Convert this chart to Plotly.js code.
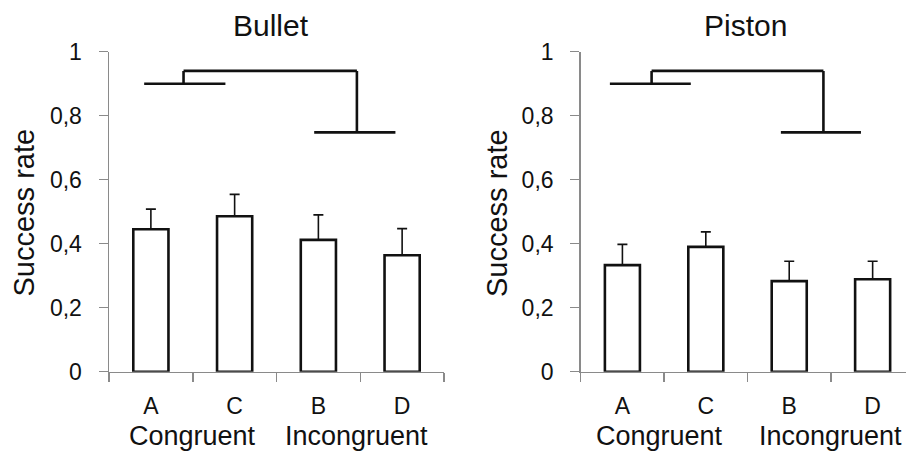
<!DOCTYPE html>
<html>
<head>
<meta charset="utf-8">
<script src="https://cdn.plot.ly/plotly-3.0.1.min.js"></script>
<style>html,body{margin:0;padding:0;background:#fff;}#chart{width:906px;height:452px;}</style>
</head>
<body>
<div id="chart"></div>
<script>
// ---- data ----
const categories = ['A', 'C', 'B', 'D'];
const groupLabels = ['Congruent', 'Incongruent'];
const panelTitles = ['Bullet', 'Piston'];
const yTickVals = [0, 0.2, 0.4, 0.6, 0.8, 1];
const yTickText = ['0', '0,2', '0,4', '0,6', '0,8', '1'];

const bulletRate = [0.445, 0.486, 0.412, 0.364];
const bulletErr  = [0.063, 0.068, 0.078, 0.083];
const pistonRate = [0.333, 0.390, 0.283, 0.289];
const pistonErr  = [0.065, 0.047, 0.062, 0.056];

// bracket: [lowLeft x0, lowLeft x1, left join x, right join x, lowRight x0, lowRight x1]
const bulletBracketX = [-0.08, 0.89, 0.39, 2.46, 1.95, 2.92];
const pistonBracketX = [-0.15, 0.82, 0.35, 2.41, 1.90, 2.86];
// bracket heights: [congruent level, top level, incongruent level]
const bracketY = [0.90, 0.94, 0.748];

// ---- style ----
const FONT = 'Liberation Sans, Arial, Helvetica, sans-serif';
const AXIS_GREY = '#8a8a8a';

function barTrace(vals, errs, xa, ya) {
  return {
    type: 'bar', x: categories, y: vals, xaxis: xa, yaxis: ya,
    width: 0.42,
    marker: {color: '#ffffff', line: {color: '#111111', width: 2.6}},
    error_y: {type: 'data', symmetric: false, array: errs,
              arrayminus: errs.map(() => 0), color: '#111111', thickness: 1.6, width: 5},
    hoverinfo: 'none', showlegend: false
  };
}

function bracketShapes(bx, xr, yr) {
  const [yl, yt, yrr] = bracketY;
  const segs = [
    [bx[0], yl, bx[1], yl],
    [bx[2], yl, bx[2], yt],
    [bx[2], yt, bx[3], yt],
    [bx[3], yt, bx[3], yrr],
    [bx[4], yrr, bx[5], yrr]
  ];
  return segs.map(s => ({type: 'line', xref: xr, yref: yr,
    x0: s[0], y0: s[1], x1: s[2], y1: s[3],
    line: {color: '#111111', width: 2.6}}));
}

const xCommon = {
  type: 'category', categoryorder: 'array', categoryarray: categories,
  showline: true, linecolor: AXIS_GREY, linewidth: 1.5,
  ticks: 'outside', tickson: 'boundaries', ticklen: 9, tickcolor: AXIS_GREY, tickwidth: 1.5,
  showgrid: false, zeroline: false, ticklabelstandoff: 13,
  tickfont: {family: FONT, size: 23, color: '#111'}
};
const yCommon = {
  range: [0, 1], tickvals: yTickVals, ticktext: yTickText,
  showline: true, linecolor: AXIS_GREY, linewidth: 1.5,
  ticks: 'outside', ticklen: 9, tickcolor: AXIS_GREY, tickwidth: 1.5,
  showgrid: false, zeroline: false, ticklabelstandoff: 12,
  tickfont: {family: FONT, size: 23, color: '#111'}
};

const gl = {xanchor: 'center', yanchor: 'middle', showarrow: false, yref: 'paper',
            y: 1 - 436 / 452, font: {family: FONT, size: 27, color: '#111'}};

const layout = {
  width: 906, height: 452,
  margin: {l: 0, r: 0, t: 0, b: 0},
  paper_bgcolor: '#fff', plot_bgcolor: '#fff',
  font: {family: FONT, color: '#111'},
  xaxis: Object.assign({}, xCommon, {domain: [109 / 906, 444 / 906], range: [-0.5, 3.5], anchor: 'y'}),
  yaxis: Object.assign({}, yCommon, {domain: [1 - 371.7 / 452, 1 - 51.7 / 452], anchor: 'x'}),
  xaxis2: Object.assign({}, xCommon, {domain: [580.7 / 906, 1], range: [-0.5, 3.4], anchor: 'y2'}),
  yaxis2: Object.assign({}, yCommon, {domain: [1 - 371.7 / 452, 1 - 51.7 / 452], anchor: 'x2'}),
  shapes: bracketShapes(bulletBracketX, 'x', 'y').concat(bracketShapes(pistonBracketX, 'x2', 'y2')),
  annotations: [
    {text: panelTitles[0], xref: 'paper', yref: 'paper', x: 271 / 906, y: 1 - 26 / 452,
     xanchor: 'center', yanchor: 'middle', showarrow: false, font: {family: FONT, size: 30, color: '#111'}},
    {text: panelTitles[1], xref: 'paper', yref: 'paper', x: 745 / 906, y: 1 - 26 / 452,
     xanchor: 'center', yanchor: 'middle', showarrow: false, font: {family: FONT, size: 30, color: '#111'}},
    {text: 'Success rate', xref: 'paper', yref: 'paper', x: 23.5 / 906, y: 1 - 213 / 452, textangle: -90,
     xanchor: 'center', yanchor: 'middle', showarrow: false, font: {family: FONT, size: 29, color: '#111'}},
    {text: 'Success rate', xref: 'paper', yref: 'paper', x: 497 / 906, y: 1 - 213 / 452, textangle: -90,
     xanchor: 'center', yanchor: 'middle', showarrow: false, font: {family: FONT, size: 29, color: '#111'}},
    Object.assign({}, gl, {text: groupLabels[0], xref: 'x', x: 0.5}),
    Object.assign({}, gl, {text: groupLabels[1], xref: 'x', x: 2.45}),
    Object.assign({}, gl, {text: groupLabels[0], xref: 'x2', x: 0.45}),
    Object.assign({}, gl, {text: groupLabels[1], xref: 'x2', x: 2.5})
  ]
};

Plotly.newPlot('chart', [
  barTrace(bulletRate, bulletErr, 'x', 'y'),
  barTrace(pistonRate, pistonErr, 'x2', 'y2')
], layout, {staticPlot: true, displayModeBar: false});
</script>
</body>
</html>
